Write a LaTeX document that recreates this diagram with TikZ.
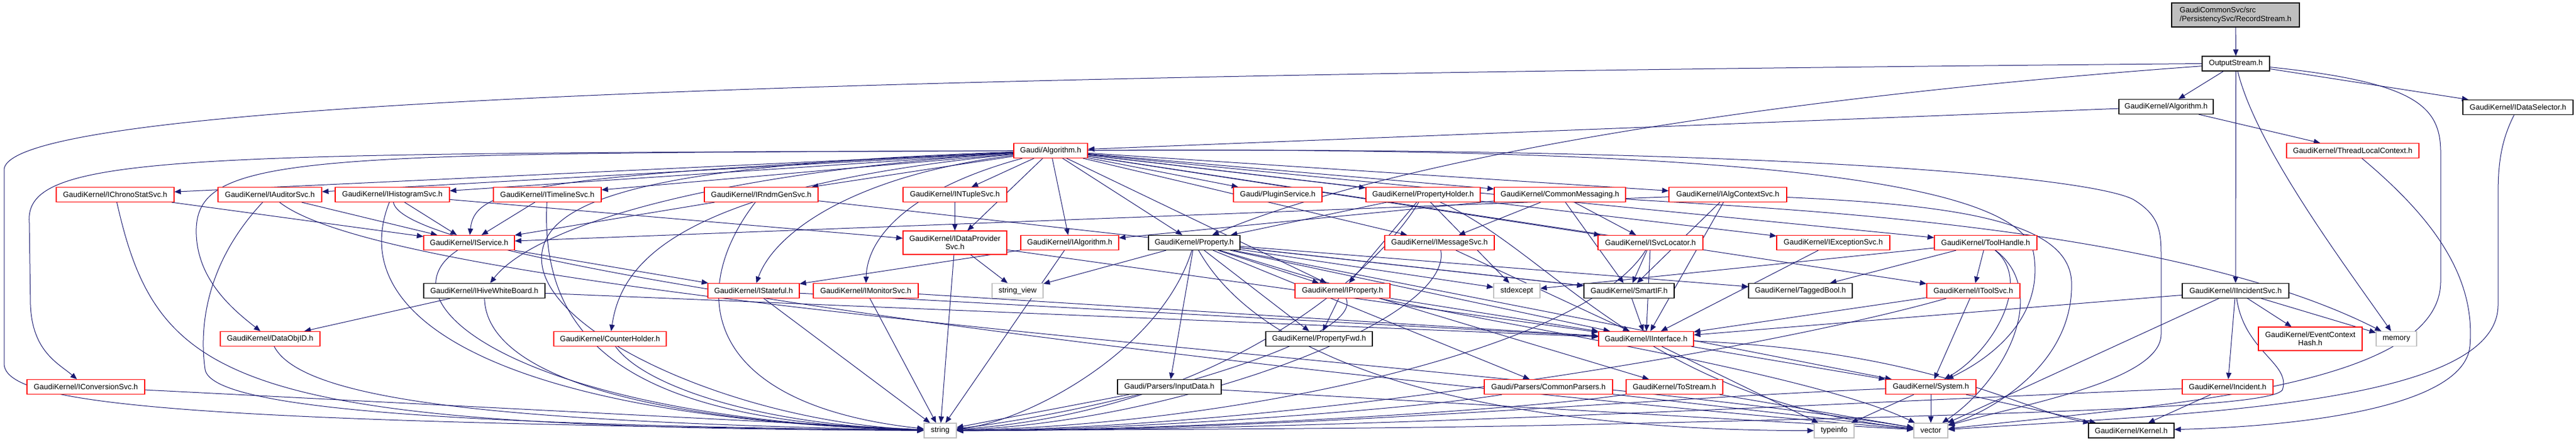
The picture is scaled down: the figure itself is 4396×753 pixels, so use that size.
\documentclass[tikz,border=0pt]{standalone}
\usepackage{fontspec}
\setmainfont{Liberation Sans}
\usetikzlibrary{arrows.meta,backgrounds}
\definecolor{edgec}{HTML}{191970}
\definecolor{sysgray}{HTML}{BFBFBF}
\definecolor{rootfill}{HTML}{BFBFBF}
\begin{document}
\begin{tikzpicture}[x=1pt,y=1pt,
  nbox/.style={draw, line width=1.2pt, fill=white, minimum height=25pt, inner xsep=3pt, inner ysep=0pt, font=\fontsize{13}{14.5}\selectfont, align=center},
  rbox/.style={nbox, draw=red},
  kbox/.style={nbox, draw=black},
  gbox/.style={nbox, draw=sysgray},
  rootbox/.style={nbox, draw=black, fill=rootfill, align=left},
  dep/.style={draw=edgec, line width=1pt, -{Triangle[length=11pt,width=9pt]}}]
\useasboundingbox (0,0) rectangle (4396,-753);
% top
\node[rootbox, minimum width=218pt, minimum height=41pt] (rs) at (3815,-25.5) {GaudiCommonSvc/src\\/PersistencySvc/RecordStream.h};
\node[kbox, minimum width=115pt] (os) at (3815.5,-108.5) {OutputStream.h};
\node[kbox, minimum width=161pt] (gkalg) at (3696.5,-182) {GaudiKernel/Algorithm.h};
\node[kbox, minimum width=188pt] (ids) at (4297,-183) {GaudiKernel/IDataSelector.h};
\node[rbox, minimum width=126pt] (galg) at (1793,-257) {Gaudi/Algorithm.h};
\node[rbox, minimum width=226pt] (tlc) at (4015,-257) {GaudiKernel/ThreadLocalContext.h};
% row 332
\node[rbox, minimum width=201pt] (ichrono) at (196.5,-332) {GaudiKernel/IChronoStatSvc.h};
\node[rbox, minimum width=177pt] (iaud) at (460.5,-332) {GaudiKernel/IAuditorSvc.h};
\node[rbox, minimum width=195pt] (ihist) at (669.5,-332) {GaudiKernel/IHistogramSvc.h};
\node[rbox, minimum width=184pt] (itime) at (934,-332) {GaudiKernel/ITimelineSvc.h};
\node[rbox, minimum width=194pt] (irndm) at (1299,-332) {GaudiKernel/IRndmGenSvc.h};
\node[rbox, minimum width=177pt] (intuple) at (1629.5,-332) {GaudiKernel/INTupleSvc.h};
\node[rbox, minimum width=151pt] (plugin) at (2180.5,-332) {Gaudi/PluginService.h};
\node[rbox, minimum width=195pt] (propholder) at (2428.5,-332) {GaudiKernel/PropertyHolder.h};
\node[rbox, minimum width=224pt] (commsg) at (2662,-332) {GaudiKernel/CommonMessaging.h};
\node[rbox, minimum width=201pt] (ialgctx) at (2948.5,-332) {GaudiKernel/IAlgContextSvc.h};
% row 414
\node[rbox, minimum width=155pt] (iservice) at (800.5,-414) {GaudiKernel/IService.h};
\node[rbox, minimum width=177pt, minimum height=40pt] (idp) at (1629.5,-414) {GaudiKernel/IDataProvider\\Svc.h};
\node[rbox, minimum width=167pt] (ialgorithm) at (1825.5,-414) {GaudiKernel/IAlgorithm.h};
\node[kbox, minimum width=156pt] (property) at (2038,-414) {GaudiKernel/Property.h};
\node[rbox, minimum width=187pt] (imsg) at (2456.5,-414) {GaudiKernel/IMessageSvc.h};
\node[rbox, minimum width=179pt] (isvcloc) at (2816.5,-414) {GaudiKernel/ISvcLocator.h};
\node[rbox, minimum width=193pt] (iexc) at (3128.5,-414) {GaudiKernel/IExceptionSvc.h};
\node[rbox, minimum width=175pt] (toolhandle) at (3388.5,-414) {GaudiKernel/ToolHandle.h};
% row 496
\node[kbox, minimum width=207pt] (ihive) at (826.5,-496) {GaudiKernel/IHiveWhiteBoard.h};
\node[rbox, minimum width=156pt] (istateful) at (1286,-496) {GaudiKernel/IStateful.h};
\node[rbox, minimum width=179pt] (imon) at (1477.5,-496) {GaudiKernel/IMonitorSvc.h};
\node[gbox, minimum width=87pt] (strview) at (1736.5,-496) {string\_view};
\node[rbox, minimum width=162pt] (iproperty) at (2291,-496) {GaudiKernel/IProperty.h};
\node[gbox, minimum width=79pt] (stdexcept) at (2588.5,-496) {stdexcept};
\node[kbox, minimum width=154pt] (smartif) at (2780,-496) {GaudiKernel/SmartIF.h};
\node[kbox, minimum width=177pt] (taggedbool) at (3072.5,-496) {GaudiKernel/TaggedBool.h};
\node[rbox, minimum width=159pt] (itoolsvc) at (3367.5,-496) {GaudiKernel/IToolSvc.h};
\node[kbox, minimum width=182pt] (iincsvc) at (3815,-496) {GaudiKernel/IIncidentSvc.h};
% row 578
\node[rbox, minimum width=170pt] (dataobjid) at (461,-578) {GaudiKernel/DataObjID.h};
\node[rbox, minimum width=192pt] (counterholder) at (1041,-578) {GaudiKernel/CounterHolder.h};
\node[kbox, minimum width=182pt] (propfwd) at (2251,-578) {GaudiKernel/PropertyFwd.h};
\node[rbox, minimum width=162pt] (iinterface) at (2809,-578) {GaudiKernel/IInterface.h};
\node[rbox, minimum width=177pt, minimum height=40pt] (evctxhash) at (3942.5,-578) {GaudiKernel/EventContext\\Hash.h};
\node[gbox, minimum width=69pt] (memory) at (4089.5,-578) {memory};
% row 660
\node[rbox, minimum width=201pt] (iconv) at (146.5,-660) {GaudiKernel/IConversionSvc.h};
\node[kbox, minimum width=177pt] (inputdata) at (1995.5,-660) {Gaudi/Parsers/InputData.h};
\node[rbox, minimum width=219pt] (commonparsers) at (2642.5,-660) {Gaudi/Parsers/CommonParsers.h};
\node[rbox, minimum width=165pt] (tostream) at (2857.5,-660) {GaudiKernel/ToStream.h};
\node[rbox, minimum width=154pt] (system) at (3295,-660) {GaudiKernel/System.h};
\node[rbox, minimum width=155pt] (incident) at (3801.5,-660) {GaudiKernel/Incident.h};
% row 734
\node[gbox, minimum width=55pt] (string) at (1604.5,-734.5) {string};
\node[gbox, minimum width=68pt] (typeinfo) at (3130,-734.5) {typeinfo};
\node[gbox, minimum width=58pt] (vector) at (3295,-734.5) {vector};
\node[kbox, minimum width=146pt] (kernel) at (3637,-734.5) {GaudiKernel/Kernel.h};

\begin{pgfonlayer}{background}
% root and OutputStream
\draw[dep] (rs) -- (os);
\draw[dep] (os) -- (gkalg);
\draw[dep] (os) -- (ids);
\draw[dep] (os) -- (iincsvc);
\draw[dep] (os) .. controls (3850,-250) and (4000,-450) .. (memory);
\draw[dep] (os) .. controls (2900,-175) and (2330,-290) .. (property);
\draw[dep] (os.west) .. controls (1500,-128) and (7,-170) .. (7,-290) -- (7,-620) .. controls (7,-690) and (300,-720) .. (string);
\draw[dep] (os) .. controls (4120,-140) and (4165,-180) .. (4165,-260) -- (4165,-480) .. controls (4165,-660) and (3700,-690) .. (vector);
\draw[dep] (gkalg) -- (galg);
\draw[dep] (gkalg) -- (tlc);
\draw[dep] (ids) .. controls (4268,-240) and (4263,-280) .. (4263,-330) -- (4263,-520) .. controls (4263,-690) and (3750,-705) .. (vector);
\draw[dep] (tlc) .. controls (4150,-370) and (4225,-470) .. (4215,-590) .. controls (4205,-700) and (3900,-728) .. (kernel);
% Gaudi/Algorithm.h
\foreach \t in {ichrono,iaud,ihist,itime,irndm,intuple,idp,ialgorithm,plugin,propholder,commsg,ialgctx,imsg,property,iproperty,isvcloc,iexc,toolhandle,itoolsvc}
  \draw[dep] (galg) -- (\t);
\draw[dep] (galg) .. controls (900,-300) and (810,-320) .. (iservice);
\draw[dep] (galg) .. controls (1450,-300) and (1320,-400) .. (istateful);
\draw[dep] (galg) .. controls (1560,-320) and (1480,-400) .. (imon);
\draw[dep] (galg) .. controls (1150,-300) and (900,-400) .. (ihive);
\draw[dep] (galg) .. controls (1150,-320) and (1060,-450) .. (counterholder);
\draw[dep] (galg) .. controls (300,-262) and (40,-262) .. (50,-380) -- (52,-520) .. controls (55,-600) and (100,-620) .. (iconv);
\draw[dep] (galg) .. controls (500,-262) and (330,-262) .. (335,-400) .. controls (338,-480) and (400,-530) .. (dataobjid);
\draw[dep] (galg) .. controls (1150,-280) and (940,-330) .. (925,-430) .. controls (905,-560) and (1250,-720) .. (string);
\draw[dep] (galg) .. controls (2900,-250) and (3440,-300) .. (3470,-430) .. controls (3490,-540) and (3400,-610) .. (system);
\draw[dep] (galg) .. controls (3000,-250) and (3560,-300) .. (3640,-340) .. controls (3690,-370) and (3688,-400) .. (3688,-450) -- (3688,-570) .. controls (3688,-650) and (3450,-690) .. (vector);
% left services
\draw[dep] (ichrono) -- (iservice);
\draw[dep] (ichrono) .. controls (270,-660) and (400,-730) .. (string);
\draw[dep] (iaud) -- (iservice);
\draw[dep] (iaud) .. controls (350,-450) and (340,-560) .. (350,-630) .. controls (360,-700) and (800,-725) .. (string);
\draw[dep] (iaud) .. controls (700,-520) and (2600,-620) .. (vector);
\draw[dep] (ihist) -- (iservice);
\draw[dep] (ihist) -- (idp);
\draw[dep] (ihist) .. controls (580,-560) and (900,-715) .. (string);
\draw[dep] (ihist) .. controls (690,-470) and (2400,-660) .. (vector);
\draw[dep] (itime) -- (iservice);
\draw[dep] (itime) .. controls (920,-600) and (1100,-720) .. (string);
\draw[dep] (iconv) -- (string);
\draw[dep] (iservice) -- (istateful);
\draw[dep] (iservice) .. controls (640,-520) and (900,-715) .. (string);
\draw[dep] (ihive) -- (dataobjid);
\draw[dep] (ihive) -- (iinterface);
\draw[dep] (ihive) .. controls (830,-640) and (1100,-720) .. (string);
\draw[dep] (dataobjid) .. controls (520,-690) and (900,-720) .. (string);
\draw[dep] (counterholder) .. controls (1100,-660) and (1300,-725) .. (string);
\draw[dep] (irndm) -- (iservice);
\draw[dep] (irndm) -- (smartif);
\draw[dep] (irndm) .. controls (1170,-500) and (1200,-690) .. (string);
\draw[dep] (intuple) -- (idp);
\draw[dep] (idp) -- (strview);
\draw[dep] (idp) -- (string);
\draw[dep] (idp) -- (iinterface);
\draw[dep] (ialgorithm) -- (istateful);
\draw[dep] (ialgorithm) -- (string);
\draw[dep] (istateful) -- (string);
\draw[dep] (istateful) -- (iinterface);
\draw[dep] (imon) -- (string);
\draw[dep] (imon) -- (iinterface);
% Property
\draw[dep] (property) -- (strview);
\draw[dep] (property) -- (iproperty);
\draw[dep] (property) -- (propfwd);
\draw[dep] (property) -- (inputdata);
\draw[dep] (property) -- (commonparsers);
\draw[dep] (property) -- (tostream);
\draw[dep] (property) -- (stdexcept);
\draw[dep] (property) -- (smartif);
\draw[dep] (property) -- (taggedbool);
\draw[dep] (property) -- (iinterface);
\draw[dep] (property) -- (system);
\draw[dep] (property) .. controls (1980,-600) and (1750,-720) .. (string);
\draw[dep] (property) .. controls (2200,-700) and (2800,-735) .. (typeinfo);
\draw[dep] (iproperty) -- (propfwd);
\draw[dep] (iproperty) -- (iinterface);
\draw[dep] (iproperty) .. controls (2330,-580) and (1900,-700) .. (string);
\draw[dep] (iproperty) .. controls (2600,-560) and (3100,-640) .. (vector);
\draw[dep] (propholder) -- (property);
\draw[dep] (propholder) -- (iproperty);
\draw[dep] (propholder) -- (stdexcept);
\draw[dep] (propholder) .. controls (2360,-450) and (2100,-700) .. (string);
\draw[dep] (propholder) .. controls (2650,-430) and (2800,-680) .. (vector);
\draw[dep] (commsg) -- (imsg);
\draw[dep] (commsg) -- (isvcloc);
\draw[dep] (commsg) -- (smartif);
\draw[dep] (commsg) -- (ialgorithm);
\draw[dep] (commsg) .. controls (3000,-355) and (3700,-380) .. (memory);
\draw[dep] (ialgctx) -- (iservice);
\draw[dep] (ialgctx) -- (smartif);
\draw[dep] (ialgctx) -- (iinterface);
\draw[dep] (ialgctx) .. controls (3350,-350) and (3530,-380) .. (3535,-480) .. controls (3540,-620) and (3400,-700) .. (vector);
\draw[dep] (imsg) -- (iinterface);
\draw[dep] (imsg) .. controls (2480,-550) and (2000,-720) .. (string);
\draw[dep] (isvcloc) -- (smartif);
\draw[dep] (isvcloc) -- (iinterface);
\draw[dep] (isvcloc) .. controls (2700,-600) and (2100,-725) .. (string);
\draw[dep] (iexc) -- (iinterface);
\draw[dep] (toolhandle) -- (itoolsvc);
\draw[dep] (toolhandle) -- (stdexcept);
\draw[dep] (toolhandle) -- (taggedbool);
\draw[dep] (toolhandle) .. controls (3470,-480) and (3400,-600) .. (system);
\draw[dep] (toolhandle) .. controls (3500,-500) and (3420,-650) .. (vector);
\draw[dep] (itoolsvc) -- (iinterface);
\draw[dep] (itoolsvc) -- (system);
\draw[dep] (itoolsvc) .. controls (3000,-600) and (2200,-730) .. (string);
\draw[dep] (smartif) -- (iinterface);
% lower levels
\draw[dep] (iinterface) -- (typeinfo);
\draw[dep] (iinterface) -- (system);
\draw[dep] (iinterface) .. controls (3300,-600) and (3450,-700) .. (kernel);
\draw[dep] (system) -- (typeinfo);
\draw[dep] (system) -- (vector);
\draw[dep] (system) -- (kernel);
\draw[dep] (system) .. controls (2800,-680) and (2200,-735) .. (string);
\draw[dep] (tostream) -- (vector);
\draw[dep] (tostream) .. controls (2600,-700) and (2000,-735) .. (string);
\draw[dep] (commonparsers) -- (vector);
\draw[dep] (commonparsers) .. controls (2400,-700) and (1900,-735) .. (string);
\draw[dep] (inputdata) -- (string);
\draw[dep] (inputdata) -- (vector);
\draw[dep] (iincsvc) -- (iinterface);
\draw[dep] (iincsvc) -- (incident);
\draw[dep] (iincsvc) -- (evctxhash);
\draw[dep] (iincsvc) -- (memory);
\draw[dep] (iincsvc) -- (vector);
\draw[dep] (iincsvc) .. controls (3830,-600) and (3910,-620) .. (3895,-665) .. controls (3880,-690) and (3600,-700) .. (3200,-712) .. controls (2500,-730) .. (string);
\draw[dep] (incident) -- (kernel);
\draw[dep] (incident) .. controls (3300,-680) and (2300,-735) .. (string);
\end{pgfonlayer}
\end{tikzpicture}
\end{document}
